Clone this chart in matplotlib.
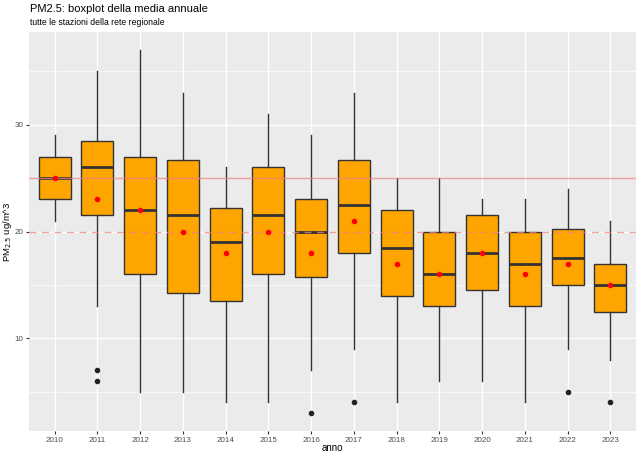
import matplotlib
matplotlib.use("Agg")
import matplotlib.pyplot as plt
from matplotlib.ticker import MultipleLocator

plt.rcParams['font.family'] = ['Liberation Sans', 'DejaVu Sans']

years = ['2010', '2011', '2012', '2013', '2014', '2015', '2016',
         '2017', '2018', '2019', '2020', '2021', '2022', '2023']
whislo = [21, 13, 5, 5, 4, 4, 7, 9, 4, 6, 6, 4, 9, 8]
q1 = [23, 21.5, 16, 14.2, 13.5, 16, 15.7, 18, 14, 13, 14.5, 13, 15, 12.5]
med = [25, 26, 22, 21.5, 19, 21.5, 20, 22.5, 18.5, 16, 18, 17, 17.5, 15]
q3 = [27, 28.5, 27, 26.7, 22.2, 26, 23, 26.7, 22, 20, 21.5, 20, 20.2, 17]
whishi = [29, 35, 37, 33, 26, 31, 29, 33, 25, 25, 23, 23, 24, 21]
means = [25, 23, 22, 20, 18, 20, 18, 21, 17, 16, 18, 16, 17, 15]
outliers = [[], [7, 6], [], [], [], [], [3], [4], [], [], [], [], [5], [4]]
limit_value = 25
guide_value = 20

fig = plt.figure(figsize=(6.4, 4.57), dpi=100)
ax = fig.add_axes([29/640, 1-431/457, (636-29)/640, (431-32)/457])
ax.set_facecolor('#EBEBEB')

stats = []
for i in range(len(years)):
    stats.append(dict(label=years[i], whislo=whislo[i], q1=q1[i], med=med[i],
                      q3=q3[i], whishi=whishi[i], fliers=outliers[i]))
pos = list(range(1, len(years) + 1))

ax.set_axisbelow(True)
ax.yaxis.set_major_locator(MultipleLocator(10))
ax.yaxis.set_minor_locator(MultipleLocator(5))
ax.grid(which='major', axis='both', color='white', linewidth=1.0)
ax.grid(which='minor', axis='y', color='white', linewidth=0.5)

ax.bxp(stats, positions=pos, widths=0.75, patch_artist=True, showcaps=False,
       boxprops=dict(facecolor='#FFA500', edgecolor='#333333', linewidth=1.0),
       medianprops=dict(color='#333333', linewidth=2.0),
       whiskerprops=dict(color='#333333', linewidth=1.0),
       flierprops=dict(marker='o', markerfacecolor='#222222', markeredgecolor='#222222',
                       markersize=3.0), zorder=2)

ax.plot(pos, means, 'o', color='red', markersize=3.0, zorder=4, linestyle='none')

ax.axhline(limit_value, color='#F08080', alpha=0.75, linewidth=1.0, zorder=3)
ax.axhline(guide_value, color='#F08080', alpha=0.75, linewidth=1.0, linestyle=(0, (5, 4)), zorder=3)

ax.set_xlim(0.4, len(years) + 0.6)
ax.set_ylim(1.3, 38.7)
ax.set_xticks(pos)
ax.set_xticklabels(years)
for s in ax.spines.values():
    s.set_visible(False)
ax.tick_params(axis='both', which='major', colors='#333333', labelcolor='#4D4D4D',
               labelsize=5.8, length=2.5, width=0.8, pad=1.5)
ax.tick_params(axis='both', which='minor', length=0)

ax.set_xlabel('anno', fontsize=7, color='black')
ax.set_ylabel('PM$_{2.5}$ ug/m^3', fontsize=6.8, color='black')
ax.xaxis.set_label_coords(0.5, (431 - 448) / 399)
ax.yaxis.set_label_coords((8 - 29) / 607, 0.5)
ax.xaxis.label.set_va('center')
ax.yaxis.label.set_va('center')

fig.text(30/640, 1-9.5/457, 'PM2.5: boxplot della media annuale', fontsize=8,
         ha='left', va='center')
fig.text(30/640, 1-22.5/457, 'tutte le stazioni della rete regionale', fontsize=6.2,
         ha='left', va='center')

fig.savefig('out.png', dpi=100, facecolor='white')
